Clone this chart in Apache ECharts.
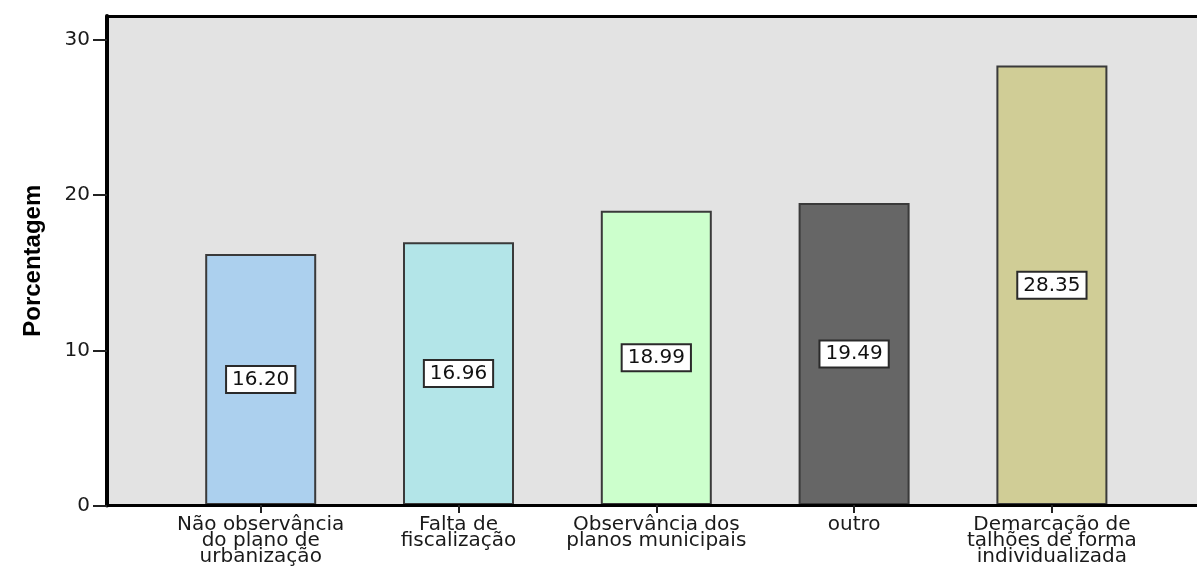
<!DOCTYPE html>
<html>
<head>
<meta charset="utf-8">
<style>
  html, body { margin: 0; padding: 0; background: #ffffff; }
  #chart { width: 1197px; height: 567px; }
</style>
<script src="https://cdn.jsdelivr.net/npm/echarts@6/dist/echarts.min.js"></script>
</head>
<body>
<div id="chart"></div>
<script>
// Categories (axis labels, with their line breaks)
const categories = [
  'Não observância\ndo plano de\nurbanização',
  'Falta de\nfiscalização',
  'Observância dos\nplanos municipais',
  'outro',
  'Demarcação de\ntalhões de forma\nindividualizada'
];
// Percentage for each category
const values = [16.20, 16.96, 18.99, 19.49, 28.35];
// Fill colour for each bar
const barColors = ['#acd0ee', '#b3e5e8', '#ccffcc', '#666666', '#d0cd96'];
// Y axis tick values
const yTicks = [0, 10, 20, 30];
const yMax = 31.55;
const yTitle = 'Porcentagem';

const chart = echarts.init(document.getElementById('chart'), null, { renderer: 'canvas' });

const plotTop = 16;
const plotHeight = 489.5;
const labelFont = 'DejaVu Sans, Arial, sans-serif';

const option = {
  animation: false,
  backgroundColor: '#ffffff',
  grid: [
    // Frame grid: grey panel, y scale, full-width axis lines
    { left: 107, top: plotTop, width: 1100, height: plotHeight, show: true,
      backgroundColor: '#e3e3e3', borderWidth: 0 },
    // Bar grid: category bands placed inside the panel
    { left: 161.8, top: plotTop, width: 989, height: plotHeight }
  ],
  xAxis: [
    { gridIndex: 0, type: 'value', min: 0, max: 1, position: 'bottom', z: 5,
      axisLine: { show: true, lineStyle: { color: '#000', width: 3 } },
      axisTick: { show: false }, axisLabel: { show: false }, splitLine: { show: false } },
    { gridIndex: 0, type: 'value', min: 0, max: 1, position: 'top', z: 5,
      axisLine: { show: true, lineStyle: { color: '#000', width: 3 } },
      axisTick: { show: false }, axisLabel: { show: false }, splitLine: { show: false } },
    { gridIndex: 1, type: 'category', data: categories, position: 'bottom', z: 5,
      axisLine: { show: false },
      axisTick: { show: true, alignWithLabel: true, length: 8, lineStyle: { color: '#222', width: 2 } },
      axisLabel: { show: true, interval: 0, margin: 12, color: '#1a1a1a',
        fontFamily: labelFont, fontSize: 20, lineHeight: 16, align: 'center' },
      splitLine: { show: false } }
  ],
  yAxis: [
    { gridIndex: 0, type: 'value', min: 0, max: yMax, z: 5,
      name: yTitle, nameLocation: 'middle', nameRotate: 90, nameGap: 62,
      nameTextStyle: { fontFamily: 'Liberation Sans, Arial, sans-serif',
        fontWeight: 'bold', fontSize: 24, color: '#000' },
      axisLine: { show: true, lineStyle: { color: '#000', width: 4 } },
      axisTick: { show: true, length: 14, customValues: yTicks, lineStyle: { color: '#222', width: 2 } },
      axisLabel: { show: true, margin: 17, customValues: yTicks, color: '#1a1a1a',
        fontFamily: labelFont, fontSize: 20 },
      splitLine: { show: false } },
    { gridIndex: 1, type: 'value', min: 0, max: yMax, show: false }
  ],
  series: [{
    type: 'bar',
    xAxisIndex: 2,
    yAxisIndex: 1,
    barWidth: 111,
    data: values.map((v, i) => ({
      value: v,
      itemStyle: { color: barColors[i], borderColor: '#3a3a3a', borderWidth: 2 }
    })),
    label: {
      show: true,
      position: 'inside',
      formatter: p => p.value.toFixed(2),
      fontFamily: labelFont,
      fontSize: 20,
      color: '#111',
      backgroundColor: '#ffffff',
      borderColor: '#2a2a2a',
      borderWidth: 2,
      padding: [3, 5, 2, 5]
    }
  }]
};

chart.setOption(option);
</script>
</body>
</html>
